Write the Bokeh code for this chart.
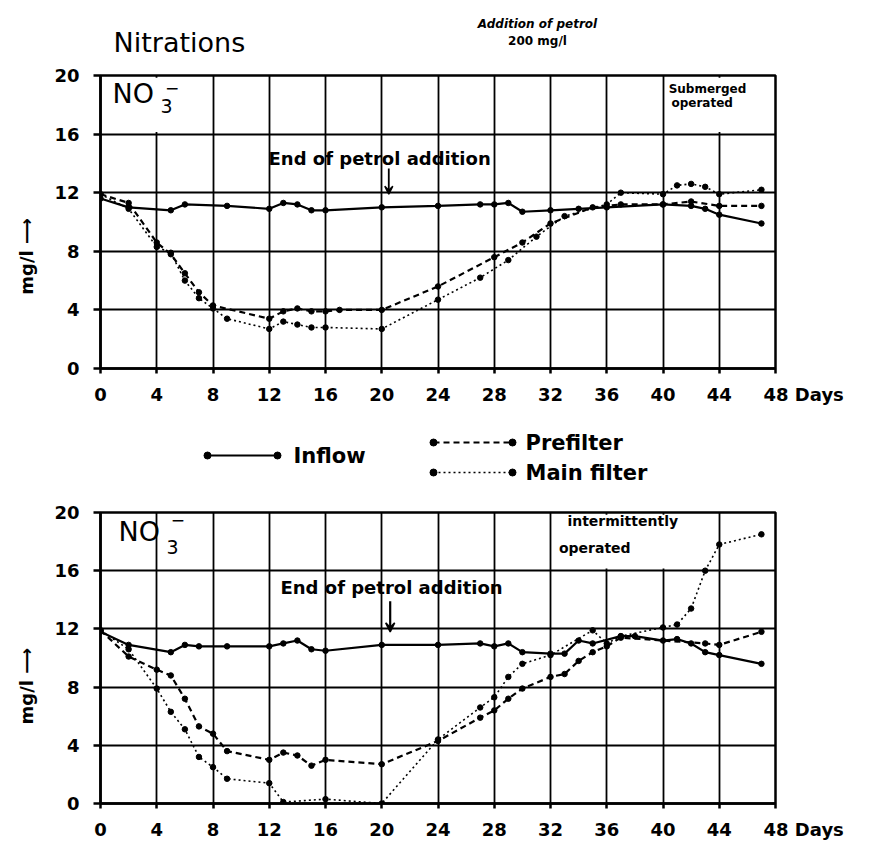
from bokeh.plotting import figure
from bokeh.models import Label, Arrow, VeeHead, FixedTicker, Range1d
from bokeh.layouts import column
from bokeh.embed import file_html
from bokeh.resources import INLINE

# ---------------- data ----------------
day_ticks = list(range(0, 49, 4))
conc_ticks = list(range(0, 21, 4))

# Top panel: submerged operated
top_inflow_x = [0, 2, 5, 6, 9, 12, 13, 14, 15, 16, 20, 24, 27, 28, 29, 30, 32, 34, 36, 40, 42, 43, 44, 47]
top_inflow_y = [11.6, 11.0, 10.8, 11.2, 11.1, 10.9, 11.3, 11.2, 10.8, 10.8, 11.0, 11.1, 11.2, 11.2, 11.3, 10.7, 10.8, 10.9, 11.0, 11.2, 11.1, 10.9, 10.5, 9.9]

top_pre_x = [0, 2, 4, 5, 6, 7, 8, 12, 13, 14, 15, 16, 17, 20, 24, 28, 30, 32, 35, 37, 40, 42, 44, 47]
top_pre_y = [11.9, 11.3, 8.6, 7.8, 6.5, 5.2, 4.3, 3.4, 3.9, 4.1, 3.9, 3.9, 4.0, 4.0, 5.6, 7.6, 8.6, 9.9, 11.0, 11.2, 11.2, 11.4, 11.1, 11.1]

top_main_x = [0, 2, 4, 5, 6, 7, 8, 9, 12, 13, 14, 15, 16, 20, 24, 27, 29, 31, 33, 36, 37, 40, 41, 42, 43, 44, 47]
top_main_y = [11.9, 10.9, 8.3, 7.9, 6.0, 4.8, 4.1, 3.4, 2.7, 3.2, 3.0, 2.8, 2.8, 2.7, 4.7, 6.2, 7.4, 9.0, 10.4, 11.2, 12.0, 11.9, 12.5, 12.6, 12.4, 11.9, 12.2]

# Bottom panel: intermittently operated
bot_inflow_x = [0, 2, 5, 6, 7, 9, 12, 13, 14, 15, 16, 20, 24, 27, 28, 29, 30, 32, 33, 34, 35, 37, 38, 40, 41, 42, 43, 44, 47]
bot_inflow_y = [11.8, 10.9, 10.4, 10.9, 10.8, 10.8, 10.8, 11.0, 11.2, 10.6, 10.5, 10.9, 10.9, 11.0, 10.8, 11.0, 10.4, 10.3, 10.3, 11.2, 11.0, 11.5, 11.5, 11.2, 11.3, 11.0, 10.4, 10.2, 9.6]

bot_pre_x = [0, 2, 4, 5, 6, 7, 8, 9, 12, 13, 14, 15, 16, 20, 24, 27, 28, 29, 30, 32, 33, 34, 35, 36, 37, 43, 44, 47]
bot_pre_y = [11.9, 10.1, 9.2, 8.8, 7.2, 5.3, 4.8, 3.6, 3.0, 3.5, 3.3, 2.6, 3.0, 2.7, 4.3, 5.9, 6.4, 7.2, 7.9, 8.7, 8.9, 9.8, 10.4, 10.8, 11.4, 11.0, 10.9, 11.8]

bot_main_x = [0, 2, 4, 5, 6, 7, 8, 9, 12, 13, 16, 20, 24, 27, 28, 29, 30, 32, 35, 36, 37, 40, 41, 42, 43, 44, 47]
bot_main_y = [11.9, 10.6, 7.9, 6.3, 5.1, 3.2, 2.5, 1.7, 1.4, 0.1, 0.3, 0.0, 4.4, 6.6, 7.3, 8.7, 9.6, 10.2, 11.9, 11.0, 11.5, 12.1, 12.3, 13.4, 16.0, 17.8, 18.5]

series_names = ["Inflow", "Prefilter", "Main filter"]

# ---------------- styling helpers ----------------
FONT = "DejaVu Sans"
DASH = {"Inflow": "solid", "Prefilter": "6 4", "Main filter": "2 3"}
WIDTH = {"Inflow": 2.2, "Prefilter": 2.2, "Main filter": 1.6}
NB = "\u00a0"
W = 861
FL, FR = 100, 86   # frame left / right borders


def make_panel(height, top, bottom, ylabel_pad):
    p = figure(width=W, height=height, x_range=Range1d(0, 48), y_range=Range1d(0, 20),
               output_backend="svg", toolbar_location=None,
               min_border_left=FL, min_border_right=FR,
               min_border_top=top, min_border_bottom=bottom)
    p.background_fill_color = "white"
    p.border_fill_color = "white"
    p.outline_line_color = "black"
    p.outline_line_width = 2.5
    p.xaxis.ticker = FixedTicker(ticks=day_ticks)
    p.yaxis.ticker = FixedTicker(ticks=conc_ticks)
    for ax in (p.xaxis[0], p.yaxis[0]):
        ax.axis_line_width = 2.5
        ax.axis_line_color = "black"
        ax.major_tick_line_width = 2.5
        ax.major_tick_line_color = "black"
        ax.major_tick_in = 0
        ax.minor_tick_line_color = None
        ax.major_label_text_font = FONT
        ax.major_label_text_font_style = "bold"
        ax.major_label_text_font_size = "18px"
        ax.major_label_text_color = "black"
    p.xaxis.major_tick_out = 5
    p.xaxis.major_label_standoff = 10
    p.xaxis.major_label_overrides = {48: NB * 9 + "48 Days"}
    p.yaxis.major_tick_out = 7
    p.yaxis.major_label_standoff = 14
    p.yaxis.axis_label = "mg/l ⟶" + NB * ylabel_pad
    p.yaxis.axis_label_text_font = FONT
    p.yaxis.axis_label_text_font_style = "bold"
    p.yaxis.axis_label_text_font_size = "18px"
    p.yaxis.axis_label_text_color = "black"
    p.yaxis.axis_label_standoff = 14
    p.xgrid.ticker = FixedTicker(ticks=day_ticks)
    p.ygrid.ticker = FixedTicker(ticks=conc_ticks)
    for g in (p.xgrid[0], p.ygrid[0]):
        g.grid_line_color = "black"
        g.grid_line_width = 1.8
        g.grid_line_alpha = 1.0
    return p


def blank_box(p, left, right, bottom, top):
    p.quad(left=[left + 0.15], right=[right - 0.15], bottom=[bottom + 0.15], top=[top - 0.15],
           fill_color="white", line_color=None)


def draw_series(p, xs, ys, name):
    p.line(xs, ys, line_color="black", line_width=WIDTH[name], line_dash=DASH[name])
    p.scatter(xs, ys, size=5.5, marker="circle", fill_color="black", line_color="black")


def add_text(p, x, y, text, size, style="bold", align="left"):
    p.add_layout(Label(x=x, y=y, text=text, text_font=FONT, text_font_size=size,
                       text_font_style=style, text_align=align, text_baseline="middle",
                       text_color="black"))


# ---------------- header strip ----------------
head = figure(width=W, height=62, x_range=Range1d(FL, W - FR), y_range=Range1d(62, 0),
              output_backend="svg", toolbar_location=None,
              min_border_left=FL, min_border_right=FR, min_border_top=0, min_border_bottom=0)
head.axis.visible = False
head.grid.visible = False
head.outline_line_color = None
add_text(head, 113, 42, "Nitrations", "27px", style="normal")
add_text(head, 537, 23, "Addition of petrol", "12px", style="bold italic", align="center")
add_text(head, 537, 40, "200 mg/l", "12px", style="bold", align="center")

# ---------------- top panel ----------------
p1 = make_panel(348, 13, 42, 11)
blank_box(p1, 0, 8, 16, 20)
blank_box(p1, 40, 48, 16, 20)
draw_series(p1, top_inflow_x, top_inflow_y, "Inflow")
draw_series(p1, top_pre_x, top_pre_y, "Prefilter")
draw_series(p1, top_main_x, top_main_y, "Main filter")

add_text(p1, 0.85, 18.77, "NO", "27px", style="normal")
add_text(p1, 4.27, 17.95, "3", "19px", style="normal")
add_text(p1, 5.1, 19.15, "−", "17px", style="normal", align="center")
add_text(p1, 40.4, 19.1, "Submerged", "12px")
add_text(p1, 40.6, 18.1, "operated", "12px")
add_text(p1, 11.95, 14.33, "End of petrol addition", "18px")
p1.add_layout(Arrow(end=VeeHead(size=8, line_color="black", line_width=1.5, fill_color="black"),
                    x_start=20.5, y_start=13.65, x_end=20.5, y_end=11.9,
                    line_color="black", line_width=1.8))

# ---------------- legend strip ----------------
leg = figure(width=W, height=78, x_range=Range1d(FL, W - FR), y_range=Range1d(78, 0),
             output_backend="svg", toolbar_location=None,
             min_border_left=FL, min_border_right=FR, min_border_top=0, min_border_bottom=0)
leg.axis.visible = False
leg.grid.visible = False
leg.outline_line_color = None
leg_rows = [(207, 277, 45, 293), (433, 512, 32, 525), (433, 512, 62, 525)]
for name, (x0, x1, yy, xt) in zip(series_names, leg_rows):
    leg.line([x0, x1], [yy, yy], line_color="black", line_width=WIDTH[name], line_dash=DASH[name])
    leg.scatter([x0, x1], [yy, yy], size=7, marker="circle", fill_color="black", line_color="black")
    leg.add_layout(Label(x=xt, y=yy, text=name, text_font=FONT, text_font_size="21px",
                         text_font_style="bold", text_baseline="middle", text_color="black"))

# ---------------- bottom panel ----------------
p2 = make_panel(354, 24, 35, 9)
blank_box(p2, 32, 44, 16, 20)
draw_series(p2, bot_inflow_x, bot_inflow_y, "Inflow")
draw_series(p2, bot_pre_x, bot_pre_y, "Prefilter")
draw_series(p2, bot_main_x, bot_main_y, "Main filter")

add_text(p2, 1.28, 18.7, "NO", "27px", style="normal")
add_text(p2, 4.7, 17.6, "3", "19px", style="normal")
add_text(p2, 5.5, 19.5, "−", "17px", style="normal", align="center")
add_text(p2, 33.2, 19.45, "intermittently", "14px")
add_text(p2, 32.6, 17.55, "operated", "14px")
add_text(p2, 12.8, 14.85, "End of petrol addition", "18px")
p2.add_layout(Arrow(end=VeeHead(size=9, line_color="black", line_width=1.5, fill_color="black"),
                    x_start=20.6, y_start=13.9, x_end=20.6, y_end=11.8,
                    line_color="black", line_width=2.2))

layout = column(head, p1, leg, p2, spacing=0)
open("out.html", "w").write(file_html(layout, INLINE))
